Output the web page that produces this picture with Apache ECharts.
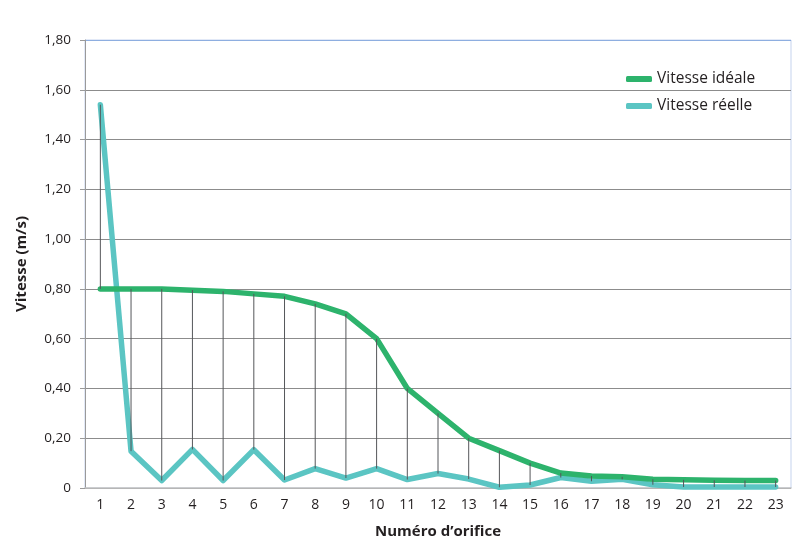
<!DOCTYPE html>
<html>
<head>
<meta charset="utf-8">
<script src="https://cdn.jsdelivr.net/npm/echarts@6/dist/echarts.min.js"></script>
<style>html,body{margin:0;padding:0;background:#fff}#c{width:800px;height:551px}</style>
</head>
<body>
<div id="c"></div>
<script>
const categories = ['1','2','3','4','5','6','7','8','9','10','11','12','13','14','15','16','17','18','19','20','21','22','23'];
const ideale = [0.80,0.80,0.80,0.795,0.79,0.78,0.77,0.74,0.70,0.60,0.40,0.30,0.20,0.15,0.10,0.06,0.048,0.045,0.035,0.033,0.031,0.03,0.03];
const reelle = [1.54,0.148,0.03,0.155,0.03,0.154,0.032,0.078,0.04,0.078,0.034,0.058,0.036,0.003,0.012,0.042,0.027,0.035,0.013,0.004,0.004,0.004,0.004];
const yTicks = [0,0.2,0.4,0.6,0.8,1.0,1.2,1.4,1.6,1.8];
const yTickLabels = ['0','0,20','0,40','0,60','0,80','1,00','1,20','1,40','1,60','1,80'];
const seriesNames = ['Vitesse idéale','Vitesse réelle'];

const FONT = '"Open Sans", "Noto Sans", sans-serif';
const chart = echarts.init(document.getElementById('c'), null, {renderer:'canvas'});
const hl = categories.map((c,i)=>[i, Math.min(ideale[i],reelle[i]), Math.max(ideale[i],reelle[i])]);
const gridCols = yTicks.map((v,i)=> i===yTicks.length-1 ? '#8eaee0' : '#8c8c8c');

chart.setOption({
  backgroundColor:'#ffffff',
  textStyle:{fontFamily:FONT},
  animation:false,
  grid:{left:85,right:9,top:40,bottom:63,show:true,borderColor:'#c5d3ee',borderWidth:1},
  legend:{
    orient:'vertical', left:621, top:66, itemGap:11,
    icon:'roundRect', itemWidth:26, itemHeight:6,
    textStyle:{fontSize:15.5,color:'#231f20',fontFamily:FONT},
    data:seriesNames
  },
  xAxis:{
    type:'category', data:categories, boundaryGap:true,
    axisLine:{lineStyle:{color:'#c3c3c3',width:1.5}},
    axisTick:{show:false},
    axisLabel:{fontSize:14,color:'#231f20',margin:10},
    name:'Numéro d’orifice', nameLocation:'middle', nameGap:36,
    nameTextStyle:{fontSize:15,fontWeight:'bold',color:'#231f20'}
  },
  yAxis:{
    type:'value', min:0, max:1.8, interval:0.2,
    axisLine:{show:true,lineStyle:{color:'#9a9a9a'}},
    axisTick:{show:true,length:5,lineStyle:{color:'#9a9a9a'}},
    axisLabel:{fontSize:13.5,color:'#231f20',margin:14,
      formatter:(v)=>{const i=yTicks.findIndex(t=>Math.abs(t-v)<1e-6);return i>=0?yTickLabels[i]:'';}},
    splitLine:{lineStyle:{color:gridCols,width:1}},
    name:'Vitesse (m/s)', nameLocation:'middle', nameGap:56,
    nameTextStyle:{fontSize:15,fontWeight:'bold',color:'#231f20'}
  },
  series:[
    {name:'Vitesse réelle', type:'line', data:reelle, symbol:'none', z:2,
     lineStyle:{color:'#5bc5c3',width:5.5,cap:'round',join:'round'}, itemStyle:{color:'#5bc5c3'}},
    {name:'Vitesse idéale', type:'line', data:ideale, symbol:'none', z:3,
     lineStyle:{color:'#2db36c',width:5.5,cap:'round',join:'round'}, itemStyle:{color:'#2db36c'}},
    {name:'hl', type:'custom', data:hl, z:5, silent:true,
     renderItem:(params,api)=>{
       const a=api.coord([api.value(0),api.value(1)]);
       const b=api.coord([api.value(0),api.value(2)]);
       return {type:'line',shape:{x1:a[0],y1:a[1],x2:b[0],y2:b[1]},style:{stroke:'#55575a',lineWidth:1}};
     },
     encode:{x:0,y:[1,2]}}
  ]
});
</script>
</body>
</html>
